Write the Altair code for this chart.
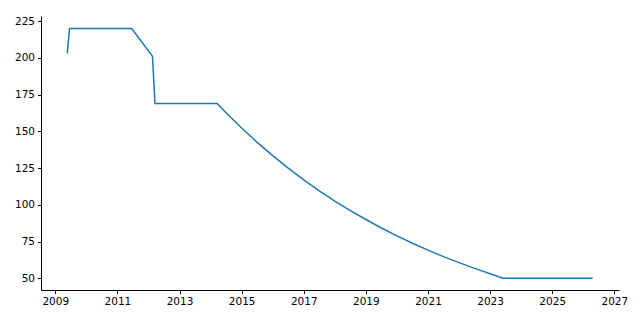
import altair as alt
import pandas as pd

years = [2009.385, 2009.46, 2011.46, 2012.13, 2012.21, 2014.21,
         2014.5, 2015.0, 2015.5, 2016.0, 2016.5, 2017.0, 2017.5,
         2018.0, 2018.5, 2019.0, 2019.5, 2020.0, 2020.5, 2021.0,
         2021.5, 2022.0, 2022.5, 2023.0, 2023.41, 2026.3]
values = [203.1, 220, 220, 201.1, 169, 169,
          162.7, 152.3, 142.5, 133.5, 125.0, 117.0, 109.5,
          102.5, 96.0, 90.0, 84.2, 78.8, 73.8, 69.1,
          64.7, 60.6, 56.7, 53.1, 50, 50]
x_ticks = [2009, 2011, 2013, 2015, 2017, 2019, 2021, 2023, 2025, 2027]
y_ticks = [50, 75, 100, 125, 150, 175, 200, 225]

df = pd.DataFrame({"year": years, "value": values, "order": list(range(len(years)))})

font = "DejaVu Sans"

chart = alt.Chart(df).mark_line(color="#1f77b4", strokeWidth=1.5, clip=True).encode(
    x=alt.X("year:Q",
            scale=alt.Scale(domain=[2008.54, 2027.15], nice=False, zero=False),
            axis=alt.Axis(values=x_ticks, format="d", title=None, grid=False,
                          domainColor="black", tickColor="black", tickSize=3.5,
                          labelPadding=3, labelFont=font, labelFontSize=10.5,
                          labelColor="black", labelFlush=False, labelOverlap=False)),
    y=alt.Y("value:Q",
            scale=alt.Scale(domain=[42, 228.5], nice=False, zero=False),
            axis=alt.Axis(values=y_ticks, title=None, grid=False,
                          domainColor="black", tickColor="black", tickSize=3.5,
                          labelPadding=3, labelFont=font, labelFontSize=10.5,
                          labelColor="black", labelFlush=False, labelOverlap=False)),
    order="order:Q",
).properties(
    width=578, height=274,
    autosize=alt.AutoSizeParams(type="none"),
    padding={"left": 41, "top": 16, "right": 21, "bottom": 30},
    background="white",
).configure_view(strokeWidth=0, stroke="transparent")

chart.save("out.html", embed_options={"renderer": "svg", "actions": False})
